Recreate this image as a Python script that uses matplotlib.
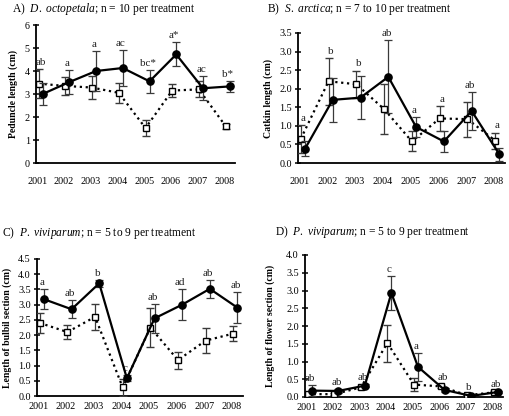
import matplotlib
matplotlib.use('Agg')
import matplotlib.pyplot as plt
import numpy as np

plt.rcParams['font.family'] = ['Liberation Serif', 'DejaVu Serif']
plt.rcParams['mathtext.fontset'] = 'custom'
plt.rcParams['mathtext.rm'] = 'Liberation Serif'
plt.rcParams['mathtext.it'] = 'Liberation Serif:italic'

years = ['2001', '2002', '2003', '2004', '2005', '2006', '2007', '2008']

# A) D. octopetala - peduncle length
a_solid = [3.00, 3.52, 4.00, 4.13, 3.55, 4.72, 3.25, 3.33]
a_solid_err = [0.47, 0.52, 0.87, 0.77, 0.50, 0.52, 0.53, 0.24]
a_dot = [3.45, 3.35, 3.28, 3.05, 1.52, 3.15, 3.20, 1.60]
a_dot_err = [0.62, 0.40, 0.50, 0.45, 0.35, 0.30, 0.35, 0.10]
a_letters = ['ab', 'a', 'a', 'ac', 'bc*', 'a*', 'ac', 'b*']

# B) S. arctica - catkin length
b_solid = [0.38, 1.70, 1.76, 2.32, 0.97, 0.58, 1.40, 0.23]
b_solid_err = [0.20, 0.60, 0.58, 0.98, 0.26, 0.28, 0.50, 0.18]
b_dot = [0.65, 2.20, 2.12, 1.45, 0.58, 1.20, 1.18, 0.60]
b_dot_err = [0.37, 0.63, 0.37, 0.67, 0.27, 0.34, 0.47, 0.22]
b_letters = ['a', 'b', 'b', 'ab', 'a', 'a', 'ab', 'a']

# C) P. viviparum - bulbil section
c_solid = [3.18, 2.85, 3.70, 0.58, 2.55, 3.00, 3.52, 2.90]
c_solid_err = [0.33, 0.30, 0.12, 0.10, 0.47, 0.50, 0.30, 0.50]
c_dot = [2.40, 2.10, 2.60, 0.28, 2.25, 1.18, 1.82, 2.05]
c_dot_err = [0.34, 0.22, 0.42, 0.28, 0.63, 0.28, 0.42, 0.25]
c_letters = ['a', 'ab', 'b', 'c', 'ab', 'ad', 'ab', 'ab']

# D) P. viviparum - flower section
d_solid = [0.18, 0.17, 0.32, 2.93, 0.85, 0.20, 0.03, 0.14]
d_solid_err = [0.15, 0.05, 0.05, 0.48, 0.40, 0.05, 0.02, 0.03]
d_dot = [0.08, 0.08, 0.27, 1.52, 0.35, 0.30, 0.05, 0.13]
d_dot_err = [0.03, 0.03, 0.05, 0.52, 0.18, 0.05, 0.02, 0.03]
d_letters = ['ab', 'ab', 'ab', 'c', 'a', 'ab', 'b', 'ab']

W, H = 510, 416


def px_axes(fig, left, right, top, bottom):
    return fig.add_axes([left / W, 1 - bottom / H, (right - left) / W, (bottom - top) / H])


def draw_panel(ax, solid, solid_err, dot, dot_err, letters, ymax, ystep, fmt, ylabel, labx, xpad):
    x = np.arange(len(years))
    xo = x + 0.05
    xf = x + 0.2
    ekw = dict(ecolor='#3a3a3a', elinewidth=0.9, capsize=2.8, capthick=0.9)
    ax.errorbar(xo, dot, yerr=dot_err, color='black', linestyle=':', linewidth=1.6,
                marker='s', markersize=4.5, markerfacecolor='white',
                markeredgecolor='black', markeredgewidth=1.0, zorder=3, **ekw)
    ax.errorbar(xf, solid, yerr=solid_err, color='black', linestyle='-', linewidth=1.6,
                marker='o', markersize=5.2, markerfacecolor='black',
                markeredgecolor='black', zorder=4, **ekw)
    tops = np.maximum(np.array(solid) + np.array(solid_err), np.array(dot) + np.array(dot_err))
    for i, lab in enumerate(letters):
        ax.annotate(lab, (x[i] + 0.13, tops[i]), xytext=(0, 1.5), textcoords='offset points',
                    ha='center', va='bottom', fontsize=8, color='#222222')
    ax.set_xlim(-0.05, 7.4)
    ax.set_ylim(0, ymax)
    ticks = np.arange(0, ymax + ystep / 2, ystep)
    ax.set_yticks(ticks)
    ax.set_yticklabels([fmt % v for v in ticks])
    ax.set_xticks(x)
    ax.set_xticklabels(years)
    for s in ['top', 'right']:
        ax.spines[s].set_visible(False)
    for s in ['left', 'bottom']:
        ax.spines[s].set_linewidth(1.3)
    ax.tick_params(axis='y', direction='inout', length=5, width=1.1, labelsize=7.3, pad=2)
    ax.tick_params(axis='x', length=0, labelsize=7.3, pad=xpad)
    ax.set_ylabel(ylabel, fontsize=7, fontweight='bold')
    ax.yaxis.set_label_coords(labx, 0.5)


fig = plt.figure(figsize=(W / 100, H / 100), dpi=100)

axA = px_axes(fig, 36, 235, 25, 163)
draw_panel(axA, a_solid, a_solid_err, a_dot, a_dot_err, a_letters, 6, 1, '%d',
           'Peduncle length (cm)', -0.09, 10)
axB = px_axes(fig, 298, 505, 33, 163)
draw_panel(axB, b_solid, b_solid_err, b_dot, b_dot_err, b_letters, 3.5, 0.5, '%.1f',
           'Catkin length (cm)', -0.12, 10)
axC = px_axes(fig, 37, 243, 259, 396)
draw_panel(axC, c_solid, c_solid_err, c_dot, c_dot_err, c_letters, 4.5, 0.5, '%.1f',
           'Length of bulbil section (cm)', -0.12, 4.5)
axD = px_axes(fig, 305, 503, 255, 397)
draw_panel(axD, d_solid, d_solid_err, d_dot, d_dot_err, d_letters, 4.0, 0.5, '%.1f',
           'Length of flower section (cm)', -0.15, 4)

tsize = 8.3
fig.text(12 / W, 1 - 9 / H, r'A)  $\mathit{D.\ octopetala}$; n = 10 per treatment',
         fontsize=tsize, va='center', ha='left')
fig.text(267 / W, 1 - 9 / H, r'B)  $\mathit{S.\ arctica}$; n = 7 to 10 per treatment',
         fontsize=tsize, va='center', ha='left')
fig.text(2 / W, 1 - 233 / H, r'C)  $\mathit{P.\ viviparum}$; n = 5 to 9 per treatment',
         fontsize=tsize, va='center', ha='left')
fig.text(275 / W, 1 - 232 / H, r'D)  $\mathit{P.\ viviparum}$; n = 5 to 9 per treatment',
         fontsize=tsize, va='center', ha='left')

fig.savefig('out.png', dpi=100)
